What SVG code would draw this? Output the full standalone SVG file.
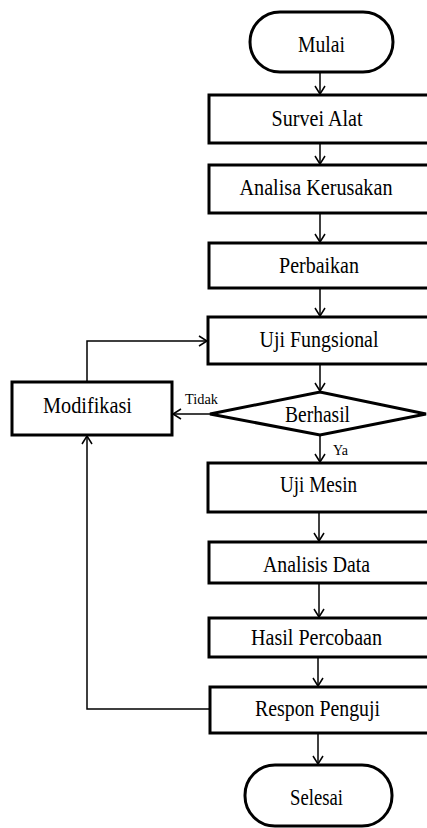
<svg xmlns="http://www.w3.org/2000/svg" width="427" height="828" viewBox="0 0 427 828">
<style>
.box{fill:#fff;stroke:#000;stroke-width:3}
.t{font-family:"Liberation Serif","Times New Roman",serif;font-size:23px;fill:#000;text-anchor:middle}
.s{font-family:"Liberation Serif","Times New Roman",serif;font-size:14px;fill:#000}
.c{fill:none;stroke:#000;stroke-width:1.5}
</style>
<defs>
<marker id="a" markerWidth="12" markerHeight="12" refX="9" refY="6" orient="auto" markerUnits="userSpaceOnUse">
<path d="M1,1 L9,6 L1,11" fill="none" stroke="#000" stroke-width="1.5"/>
</marker>
</defs>
<rect width="427" height="828" fill="#fff"/>
<g id="connectors">
<line class="c" x1="320" y1="72" x2="320" y2="94" marker-end="url(#a)"/>
<line class="c" x1="320" y1="143" x2="320" y2="164" marker-end="url(#a)"/>
<line class="c" x1="320" y1="213" x2="320" y2="242" marker-end="url(#a)"/>
<line class="c" x1="320" y1="288" x2="320" y2="316" marker-end="url(#a)"/>
<line class="c" x1="320" y1="364" x2="320" y2="391" marker-end="url(#a)"/>
<line class="c" x1="210" y1="414" x2="173" y2="414" marker-end="url(#a)"/>
<line class="c" x1="320" y1="435" x2="320" y2="462" marker-end="url(#a)"/>
<polyline class="c" points="87,382 87,341 207,341" marker-end="url(#a)"/>
<line class="c" x1="319" y1="512" x2="319" y2="541" marker-end="url(#a)"/>
<line class="c" x1="319" y1="583" x2="319" y2="617" marker-end="url(#a)"/>
<line class="c" x1="318" y1="657" x2="318" y2="686" marker-end="url(#a)"/>
<line class="c" x1="318" y1="733" x2="318" y2="764" marker-end="url(#a)"/>
<polyline class="c" points="209,709 87,709 87,436" marker-end="url(#a)"/>
<text class="s" x="185" y="404" textLength="33" lengthAdjust="spacingAndGlyphs">Tidak</text>
<text class="s" x="333" y="455" textLength="15" lengthAdjust="spacingAndGlyphs">Ya</text>
</g>
<g id="mulai">
<rect class="box" x="250" y="12" width="143" height="60" rx="30" ry="30"/>
<text class="t" x="321.5" y="52" textLength="47" lengthAdjust="spacingAndGlyphs">Mulai</text>
</g>
<g id="survei">
<rect class="box" x="209" y="95" width="240" height="48"/>
<text class="t" x="317" y="126" textLength="91" lengthAdjust="spacingAndGlyphs">Survei Alat</text>
</g>
<g id="analisa">
<rect class="box" x="209" y="165" width="240" height="48"/>
<text class="t" x="316" y="195" textLength="153" lengthAdjust="spacingAndGlyphs">Analisa Kerusakan</text>
</g>
<g id="perbaikan">
<rect class="box" x="209" y="243" width="240" height="45"/>
<text class="t" x="319" y="273" textLength="80" lengthAdjust="spacingAndGlyphs">Perbaikan</text>
</g>
<g id="ujifungsional">
<rect class="box" x="208" y="317" width="240" height="47"/>
<text class="t" x="319" y="347" textLength="119" lengthAdjust="spacingAndGlyphs">Uji Fungsional</text>
</g>
<g id="berhasil">
<polygon class="box" points="210,414 320,392 426,414 320,435"/>
<text class="t" x="317.5" y="422" textLength="65" lengthAdjust="spacingAndGlyphs">Berhasil</text>
</g>
<g id="modifikasi">
<rect class="box" x="12" y="382" width="160" height="53"/>
<text class="t" x="87.5" y="413" textLength="89" lengthAdjust="spacingAndGlyphs">Modifikasi</text>
</g>
<g id="ujimesin">
<rect class="box" x="208" y="463" width="240" height="49"/>
<text class="t" x="318.5" y="492" textLength="77" lengthAdjust="spacingAndGlyphs">Uji Mesin</text>
</g>
<g id="analisisdata">
<rect class="box" x="209" y="542" width="240" height="41"/>
<text class="t" x="316.5" y="572" textLength="107" lengthAdjust="spacingAndGlyphs">Analisis Data</text>
</g>
<g id="hasil">
<rect class="box" x="209" y="618" width="240" height="39"/>
<text class="t" x="316.5" y="645" textLength="131" lengthAdjust="spacingAndGlyphs">Hasil Percobaan</text>
</g>
<g id="respon">
<rect class="box" x="210" y="687" width="240" height="46"/>
<text class="t" x="317.5" y="716" textLength="125" lengthAdjust="spacingAndGlyphs">Respon Penguji</text>
</g>
<g id="selesai">
<rect class="box" x="245" y="765" width="147" height="61" rx="30" ry="30"/>
<text class="t" x="316.5" y="805" textLength="53" lengthAdjust="spacingAndGlyphs">Selesai</text>
</g>
</svg>
